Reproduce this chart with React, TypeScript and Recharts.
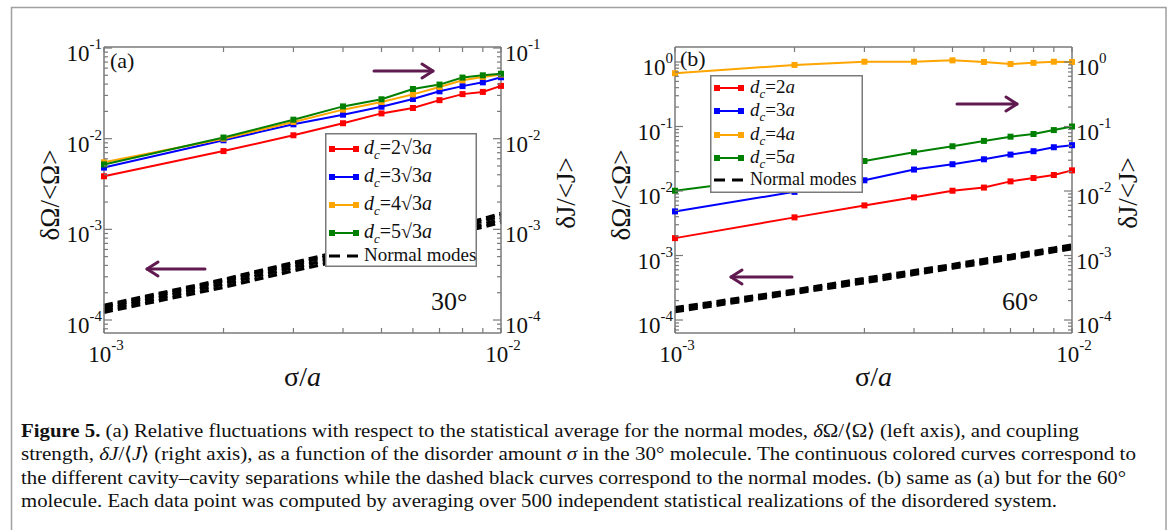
import React from 'react';
import { LineChart, Line, XAxis, YAxis, Legend } from 'recharts';

const FONT = '"Liberation Serif", "Times New Roman", serif';
const AXIS = '#7a7a7a';
const ARROW = '#601a50';

// disorder amount sigma/a (shared by both panels)
const sigma = [0.001, 0.002, 0.003, 0.004, 0.005, 0.006, 0.007, 0.008, 0.009, 0.01];
const xTicks = [0.001, 0.002, 0.003, 0.004, 0.005, 0.006, 0.007, 0.008, 0.009, 0.01];

// (a) 30° molecule, dJ/<J>
const redA = [3.85e-3, 7.3e-3, 1.09e-2, 1.48e-2, 1.9e-2, 2.18e-2, 2.66e-2, 3.1e-2, 3.28e-2, 3.82e-2];
const blueA = [4.8e-3, 9.6e-3, 1.44e-2, 1.84e-2, 2.25e-2, 2.74e-2, 3.33e-2, 3.8e-2, 4.18e-2, 4.76e-2];
const orangeA = [5.5e-3, 1.0e-2, 1.53e-2, 2.09e-2, 2.54e-2, 3.08e-2, 3.72e-2, 4.4e-2, 4.8e-2, 5.1e-2];
const greenA = [5.2e-3, 1.03e-2, 1.62e-2, 2.27e-2, 2.72e-2, 3.53e-2, 3.95e-2, 4.72e-2, 5.0e-2, 5.2e-2];
// (a) normal modes, dOmega/<Omega>
const normalA1 = [1.45e-4, 2.8e-4, 4.3e-4, 5.8e-4, 7.2e-4, 8.6e-4, 1.0e-3, 1.15e-3, 1.3e-3, 1.5e-3];
const normalA2 = [1.38e-4, 2.7e-4, 4.1e-4, 5.5e-4, 6.8e-4, 8.1e-4, 9.5e-4, 1.09e-3, 1.23e-3, 1.42e-3];
const normalA3 = [1.3e-4, 2.5e-4, 3.8e-4, 5.0e-4, 6.3e-4, 7.5e-4, 8.8e-4, 1.0e-3, 1.13e-3, 1.3e-3];
const normalA4 = [1.22e-4, 2.3e-4, 3.5e-4, 4.6e-4, 5.8e-4, 7.0e-4, 8.2e-4, 9.4e-4, 1.06e-3, 1.2e-3];

// (b) 60° molecule
const redB = [1.86e-3, 3.9e-3, 5.98e-3, 7.97e-3, 1.01e-2, 1.13e-2, 1.41e-2, 1.59e-2, 1.77e-2, 2.09e-2];
const blueB = [4.83e-3, 9.7e-3, 1.466e-2, 2.15e-2, 2.6e-2, 3.1e-2, 3.67e-2, 4.14e-2, 4.77e-2, 5.13e-2];
const orangeB = [0.67, 0.9, 1.01, 1.01, 1.06, 1.0, 0.93, 0.97, 1.01, 1.0];
const greenB = [1.01e-2, 1.75e-2, 2.92e-2, 3.99e-2, 4.94e-2, 5.98e-2, 6.95e-2, 7.65e-2, 8.8e-2, 0.1];
const normalB1 = [1.55e-4, 2.9e-4, 4.4e-4, 5.8e-4, 7.2e-4, 8.7e-4, 1.0e-3, 1.15e-3, 1.3e-3, 1.45e-3];
const normalB2 = [1.45e-4, 2.75e-4, 4.1e-4, 5.4e-4, 6.8e-4, 8.1e-4, 9.5e-4, 1.08e-3, 1.22e-3, 1.36e-3];
const normalB3 = [1.35e-4, 2.6e-4, 3.8e-4, 5.1e-4, 6.4e-4, 7.6e-4, 8.9e-4, 1.02e-3, 1.15e-3, 1.28e-3];

const colorKeys = ['r', 'bl', 'o', 'g'];
const colors = ['#ff0000', '#0000ff', '#ffa500', '#008000'];
const legendOrder = ['r', 'bl', 'o', 'g', 'n1'];
const dcLabelsA = ['2√3', '3√3', '4√3', '5√3'];
const dcLabelsB = ['2', '3', '4', '5'];

const rowsA = sigma.map((s, i) => ({
  s, r: redA[i], bl: blueA[i], o: orangeA[i], g: greenA[i],
  n1: normalA1[i], n2: normalA2[i], n3: normalA3[i], n4: normalA4[i],
}));
const rowsB = sigma.map((s, i) => ({
  s, r: redB[i], bl: blueB[i], o: orangeB[i], g: greenB[i],
  n1: normalB1[i], n2: normalB2[i], n3: normalB3[i],
}));

const isDecade = (v: number) => Math.abs(Math.log10(v) - Math.round(Math.log10(v))) < 1e-6;
const expOf = (v: number) => String(Math.round(Math.log10(v)));

function logTicks(lo: number, hi: number) {
  const out: number[] = [];
  for (let e = Math.floor(Math.log10(lo)); e <= Math.ceil(Math.log10(hi)); e++) {
    for (let k = 1; k <= 9; k++) {
      const v = k * Math.pow(10, e);
      if (v >= lo && v <= hi) out.push(v);
    }
  }
  return out;
}

function PowerLabel({ x, y, exp, anchor }: { x: number; y: number; exp: string; anchor: string }) {
  return (
    <text x={x} y={y} textAnchor={anchor} fontFamily={FONT} fontSize={23} fill="#111">
      10<tspan dy={-12} fontSize={15}>{exp}</tspan>
    </text>
  );
}

function LeftTick(p: any) {
  const v = p.payload.value;
  const major = isDecade(v);
  return (
    <g>
      <line x1={p.x} x2={p.x + (major ? 8 : 4)} y1={p.y} y2={p.y} stroke={AXIS} strokeWidth={1.2} />
      {major && <PowerLabel x={p.x - 2} y={p.y + 13} exp={expOf(v)} anchor="end" />}
    </g>
  );
}

function RightTick(p: any) {
  const v = p.payload.value;
  const major = isDecade(v);
  return (
    <g>
      <line x1={p.x} x2={p.x - (major ? 8 : 4)} y1={p.y} y2={p.y} stroke={AXIS} strokeWidth={1.2} />
      {major && <PowerLabel x={p.x + 4} y={p.y + 13} exp={expOf(v)} anchor="start" />}
    </g>
  );
}

function BottomTick(p: any) {
  const v = p.payload.value;
  return (
    <g>
      <line x1={p.x} x2={p.x} y1={p.y} y2={p.y - 5} stroke={AXIS} strokeWidth={1.2} />
      {isDecade(v) && <PowerLabel x={p.x + 2} y={p.y + 29} exp={expOf(v)} anchor="middle" />}
    </g>
  );
}

function TopTick(p: any) {
  return <line x1={p.x} x2={p.x} y1={p.y} y2={p.y + 5} stroke={AXIS} strokeWidth={1.2} />;
}

type LegendGeom = {
  left: number; top: number; w: number; h: number; rowYs: number[]; textX: number; fs: number; nfs: number;
};

function LegendBox({ payload, geom, dcLabels }: { payload?: any[]; geom: LegendGeom; dcLabels: string[] }) {
  const items = legendOrder
    .map((k) => (payload || []).find((it) => String(it.dataKey) === k))
    .filter(Boolean) as any[];
  return (
    <svg width={geom.w} height={geom.h} style={{ display: 'block' }}>
      <rect x={0.75} y={0.75} width={geom.w - 1.5} height={geom.h - 1.5} fill="#fff" stroke={AXIS} strokeWidth={1.5} />
      {items.map((it, i) => {
        const cy = geom.rowYs[i];
        const key = String(it.dataKey);
        if (key.startsWith('n')) {
          return (
            <g key={key}>
              <line x1={4} x2={33} y1={cy} y2={cy} stroke="#000" strokeWidth={3} strokeDasharray="11 7" />
              <text x={geom.textX} y={cy + 5} fontFamily={FONT} fontSize={geom.nfs} fill="#111">Normal modes</text>
            </g>
          );
        }
        const idx = colorKeys.indexOf(key);
        return (
          <g key={key}>
            <line x1={5} x2={33} y1={cy} y2={cy} stroke={it.color} strokeWidth={2} />
            <rect x={4} y={cy - 3} width={6} height={6} fill={it.color} />
            <rect x={28} y={cy - 3} width={6} height={6} fill={it.color} />
            <text x={geom.textX} y={cy + 5} fontFamily={FONT} fontSize={geom.fs} fill="#111">
              <tspan fontStyle="italic">d</tspan>
              <tspan fontStyle="italic" fontSize={13} dy={5}>c</tspan>
              <tspan dy={-5}>={dcLabels[idx]}</tspan>
              <tspan fontStyle="italic">a</tspan>
            </text>
          </g>
        );
      })}
    </svg>
  );
}

function Panel({ rows, yDomain, dcLabels, normalKeys, geom }: {
  rows: any[]; yDomain: [number, number]; dcLabels: string[]; normalKeys: string[]; geom: LegendGeom;
}) {
  const yTicks = logTicks(yDomain[0], yDomain[1]);
  const axisLine = { stroke: AXIS, strokeWidth: 1.5 };
  return (
    <LineChart width={586} height={400} data={rows} margin={{ top: 0, right: 0, bottom: 0, left: 0 }}>
      <XAxis xAxisId="bottom" dataKey="s" type="number" scale="log" domain={[0.001, 0.01]}
        ticks={xTicks} interval={0} tickSize={0} tickMargin={0} tickLine={false}
        height={67} axisLine={axisLine} tick={BottomTick} />
      <XAxis xAxisId="top" orientation="top" dataKey="s" type="number" scale="log" domain={[0.001, 0.01]}
        ticks={xTicks} interval={0} tickSize={0} tickMargin={0} tickLine={false}
        height={47} axisLine={axisLine} tick={TopTick} />
      <YAxis yAxisId="left" type="number" scale="log" domain={yDomain} ticks={yTicks} interval={0}
        tickSize={0} tickMargin={0} tickLine={false} width={104} axisLine={axisLine} tick={LeftTick} />
      <YAxis yAxisId="right" orientation="right" type="number" scale="log" domain={yDomain} ticks={yTicks}
        interval={0} tickSize={0} tickMargin={0} tickLine={false} width={85} axisLine={axisLine} tick={RightTick} />
      {colorKeys.map((k, i) => (
        <Line key={k} xAxisId="bottom" yAxisId="right" dataKey={k} name={k} stroke={colors[i]}
          strokeWidth={2} isAnimationActive={false}
          dot={(p: any) => <rect key={`${k}-${p.index}`} x={p.cx - 3} y={p.cy - 3} width={6} height={6} fill={colors[i]} />} />
      ))}
      {normalKeys.map((k, i) => (
        <Line key={k} xAxisId="top" yAxisId="left" dataKey={k} name="Normal modes" stroke="#000"
          strokeWidth={3.5} strokeDasharray="9 5" dot={false} legendType={i === 0 ? 'line' : 'none'}
          isAnimationActive={false} />
      ))}
      <Legend layout="horizontal" verticalAlign="middle" align="center"
        wrapperStyle={{ position: 'absolute', left: geom.left, top: geom.top, width: geom.w, height: geom.h }}
        content={(props: any) => <LegendBox payload={props.payload} geom={geom} dcLabels={dcLabels} />} />
    </LineChart>
  );
}

function Arrow({ x1, x2, y }: { x1: number; x2: number; y: number }) {
  const d = x2 > x1 ? -1 : 1;
  return (
    <g stroke={ARROW} strokeWidth={3} fill="none" strokeLinecap="round" strokeLinejoin="round">
      <line x1={x1} x2={x2} y1={y} y2={y} />
      <polyline points={`${x2 + d * 11},${y - 7} ${x2},${y} ${x2 + d * 11},${y + 7}`} />
    </g>
  );
}

function YTitle({ x, y, children }: { x: number; y: number; children: React.ReactNode }) {
  return (
    <text x={x} y={y} transform={`rotate(-90 ${x} ${y})`} textAnchor="middle" fontFamily={FONT} fontSize={27} fill="#111">
      {children}
    </text>
  );
}

function XTitle({ x }: { x: number }) {
  return (
    <text x={x} y={386} textAnchor="middle" fontFamily={FONT} fontSize={28} fill="#111">
      σ/<tspan fontStyle="italic">a</tspan>
    </text>
  );
}

export default function App() {
  const cap = { fontFamily: FONT, fontSize: 19, fill: '#111' } as const;
  return (
    <div style={{ position: 'absolute', left: 0, top: 0, width: 1173, height: 530, background: '#fff', overflow: 'hidden' }}>
      <div style={{ position: 'absolute', left: 0, top: 0 }}>
        <Panel rows={rowsA} yDomain={[7.19e-5, 0.1026]} dcLabels={dcLabelsA} normalKeys={['n1', 'n2', 'n3', 'n4']}
          geom={{ left: 325, top: 133, w: 152, h: 134, rowYs: [16, 44, 72, 100, 123], textX: 39, fs: 20, nfs: 19 }} />
      </div>
      <div style={{ position: 'absolute', left: 571, top: 0 }}>
        <Panel rows={rowsB} yDomain={[6.29e-5, 1.708]} dcLabels={dcLabelsB} normalKeys={['n1', 'n2', 'n3']}
          geom={{ left: 139, top: 75, w: 153, h: 118, rowYs: [13, 36, 60, 83, 105], textX: 40, fs: 19, nfs: 18 }} />
      </div>
      <svg width={1173} height={530} style={{ position: 'absolute', left: 0, top: 0, pointerEvents: 'none' }}>
        <rect x={11.5} y={7.5} width={1154.5} height={600} fill="none" stroke="#a0a0a0" strokeWidth={1.5} />

        <YTitle x={59} y={195}>δΩ/&lt;Ω&gt;</YTitle>
        <YTitle x={575} y={193}>δJ/&lt;J&gt;</YTitle>
        <YTitle x={630} y={195}>δΩ/&lt;Ω&gt;</YTitle>
        <YTitle x={1137} y={193}>δJ/&lt;J&gt;</YTitle>
        <XTitle x={302.5} />
        <XTitle x={873.5} />

        <text x={110} y={68} fontFamily={FONT} fontSize={22} fill="#111">(a)</text>
        <text x={680} y={66} fontFamily={FONT} fontSize={22} fill="#111">(b)</text>
        <text x={431} y={310} fontFamily={FONT} fontSize={26} fill="#111">30°</text>
        <text x={1002} y={310} fontFamily={FONT} fontSize={26} fill="#111">60°</text>

        <Arrow x1={374} x2={433} y={71} />
        <Arrow x1={205} x2={147} y={269} />
        <Arrow x1={957} x2={1017} y={104} />
        <Arrow x1={792} x2={731} y={277} />

        <text x={21} y={437} {...cap} textLength={1058} lengthAdjust="spacingAndGlyphs">
          <tspan fontWeight="bold">Figure 5.</tspan> (a) Relative fluctuations with respect to the statistical average for the normal modes, <tspan fontStyle="italic">δ</tspan>Ω/⟨Ω⟩ (left axis), and coupling
        </text>
        <text x={21} y={460} {...cap} textLength={1115} lengthAdjust="spacingAndGlyphs">
          strength, <tspan fontStyle="italic">δJ</tspan>/⟨<tspan fontStyle="italic">J</tspan>⟩ (right axis), as a function of the disorder amount <tspan fontStyle="italic">σ</tspan> in the 30° molecule. The continuous colored curves correspond to
        </text>
        <text x={21} y={484} {...cap} textLength={1105} lengthAdjust="spacingAndGlyphs">
          the different cavity–cavity separations while the dashed black curves correspond to the normal modes. (b) same as (a) but for the 60°
        </text>
        <text x={21} y={507} {...cap} textLength={1036} lengthAdjust="spacingAndGlyphs">
          molecule. Each data point was computed by averaging over 500 independent statistical realizations of the disordered system.
        </text>
      </svg>
    </div>
  );
}
